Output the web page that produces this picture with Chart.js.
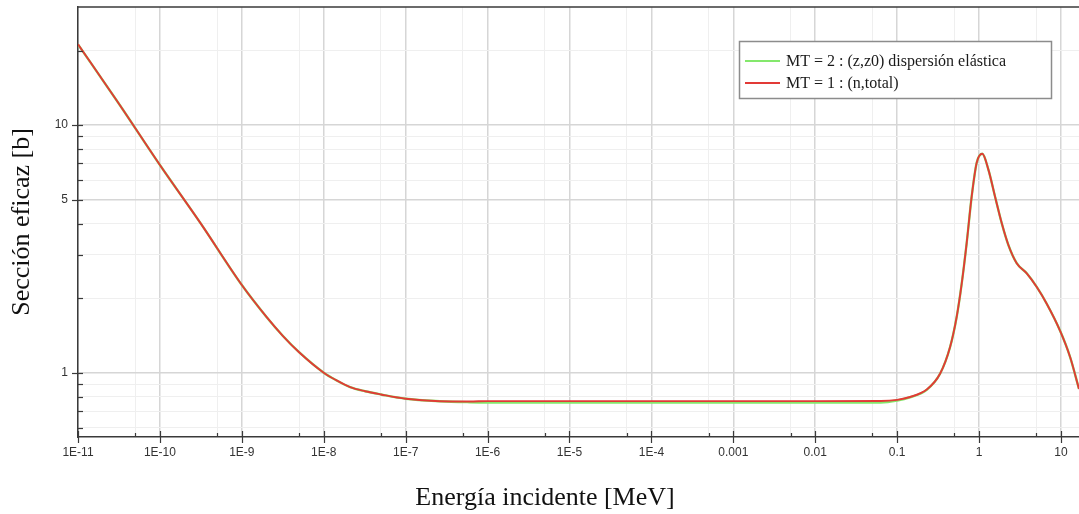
<!DOCTYPE html>
<html>
<head>
<meta charset="utf-8">
<script src="https://cdn.jsdelivr.net/npm/chart.js@4.4.1/dist/chart.umd.min.js"></script>
<style>
  html, body { margin: 0; padding: 0; background: #ffffff; }
  #wrap { width: 1079px; height: 514px; }
</style>
</head>
<body>
<div id="wrap"><canvas id="c" width="1079" height="514"></canvas></div>
<script>
// ---- data ----
const energyMeV = [1e-11, 3.16e-11, 1e-10, 3.16e-10, 1e-9, 2e-9, 3.16e-9, 5e-9, 1e-8, 1.4e-8, 2.1e-8, 3.2e-8, 5e-8, 1e-7, 2.6e-7, 6e-7,
  1e-6, 1e-5, 1e-4, 1e-3, 1e-2, 0.063, 0.1, 0.144, 0.23, 0.334, 0.443, 0.533, 0.614, 0.706, 0.813, 0.935,
  1.096, 1.30, 1.566, 1.89, 2.28, 2.88, 3.82, 5.06, 6.70, 9.73, 12.9, 16.6];
const sigmaElastic = [21.2, 12.2, 6.9, 4.0, 2.26, 1.68, 1.41, 1.21, 1.0, 0.935, 0.875, 0.842, 0.817, 0.785, 0.767, 0.760,
  0.758, 0.757, 0.757, 0.757, 0.757, 0.758, 0.772, 0.796, 0.853, 0.99, 1.27, 1.68, 2.29, 3.34, 5.15, 7.04,
  7.66, 6.61, 5.15, 4.02, 3.28, 2.77, 2.52, 2.22, 1.90, 1.48, 1.16, 0.86];
const sigmaTotal = [21.2, 12.2, 6.9, 4.0, 2.26, 1.68, 1.41, 1.21, 1.0, 0.935, 0.875, 0.842, 0.817, 0.785, 0.767, 0.765,
  0.768, 0.768, 0.768, 0.768, 0.768, 0.769, 0.777, 0.798, 0.855, 0.99, 1.27, 1.68, 2.29, 3.34, 5.15, 7.04,
  7.66, 6.61, 5.15, 4.02, 3.28, 2.77, 2.52, 2.22, 1.90, 1.48, 1.16, 0.86];
const seriesLabels = ['MT = 2 : (z,z0) dispersión elástica', 'MT = 1 : (n,total)'];
const seriesColors = ['#84e86c', '#e23a36'];

const xMajorTicks = [1e-11, 1e-10, 1e-9, 1e-8, 1e-7, 1e-6, 1e-5, 1e-4, 1e-3, 1e-2, 0.1, 1, 10];
const xTickLabels = ['1E-11', '1E-10', '1E-9', '1E-8', '1E-7', '1E-6', '1E-5', '1E-4', '0.001', '0.01', '0.1', '1', '10'];
const xMinorTicks = [5e-11, 5e-10, 5e-9, 5e-8, 5e-7, 5e-6, 5e-5, 5e-4, 5e-3, 0.05, 0.5, 5];
const yMajorTicks = [1, 5, 10];
const yTickLabels = ['1', '5', '10'];
const yMinorTicks = [0.6, 0.7, 0.8, 0.9, 2, 3, 4, 6, 7, 8, 9, 20];
const xTitle = 'Energía incidente [MeV]';
const yTitle = 'Sección eficaz [b]';

// ---- build tick tables ----
const xTicks = xMajorTicks.map((v, i) => ({ value: v, label: xTickLabels[i], major: true }))
  .concat(xMinorTicks.map(v => ({ value: v, label: '', major: false })))
  .sort((a, b) => a.value - b.value);
const yTicks = yMajorTicks.map((v, i) => ({ value: v, label: yTickLabels[i], major: true }))
  .concat(yMinorTicks.map(v => ({ value: v, label: '', major: false })))
  .sort((a, b) => a.value - b.value);

function mkPoints(vals) { return energyMeV.map((e, i) => ({ x: e, y: vals[i] })); }

const MAJOR_GRID = '#d6d6d6';
const MINOR_GRID = '#efefef';
const AXIS = '#3a3a3a';

const decor = {
  id: 'decor',
  afterDraw(chart) {
    const { ctx, chartArea: a, scales } = chart;
    const x = scales.x, y = scales.y;
    ctx.save();
    // top frame line
    ctx.strokeStyle = AXIS; ctx.lineWidth = 1.5;
    ctx.beginPath(); ctx.moveTo(a.left, a.top); ctx.lineTo(a.right, a.top); ctx.stroke();
    // tick marks
    ctx.lineWidth = 1.2; ctx.strokeStyle = AXIS;
    xTicks.forEach(t => {
      const px = Math.round(x.getPixelForValue(t.value)) + 0.5;
      if (px < a.left - 1 || px > a.right + 1) return;
      ctx.beginPath();
      if (t.major) { ctx.moveTo(px, a.bottom - 6); ctx.lineTo(px, a.bottom + 6); }
      else { ctx.moveTo(px, a.bottom - 4); ctx.lineTo(px, a.bottom); }
      ctx.stroke();
    });
    yTicks.forEach(t => {
      const py = Math.round(y.getPixelForValue(t.value)) + 0.5;
      if (py < a.top - 1 || py > a.bottom + 1) return;
      ctx.beginPath();
      if (t.major) { ctx.moveTo(a.left - 6, py); ctx.lineTo(a.left + 5, py); }
      else { ctx.moveTo(a.left, py); ctx.lineTo(a.left + 5, py); }
      ctx.stroke();
    });
    // axis titles
    ctx.fillStyle = '#111';
    ctx.font = '26px "Liberation Serif", "Times New Roman", serif';
    ctx.textAlign = 'center';
    ctx.textBaseline = 'alphabetic';
    ctx.fillText(xTitle, 545, 505);
    ctx.save();
    ctx.translate(22, (a.top + a.bottom) / 2);
    ctx.rotate(-Math.PI / 2);
    ctx.textBaseline = 'middle';
    ctx.fillText(yTitle, 0, 0);
    ctx.restore();
    // legend box
    const bx = 739.5, by = 41.5, bw = 312, bh = 57;
    ctx.fillStyle = '#ffffff';
    ctx.fillRect(bx, by, bw, bh);
    ctx.strokeStyle = '#8c8c8c'; ctx.lineWidth = 1.5;
    ctx.strokeRect(bx, by, bw, bh);
    ctx.font = '16px "Liberation Serif", "Times New Roman", serif';
    ctx.textAlign = 'left';
    ctx.textBaseline = 'middle';
    const rows = [61, 83];
    chart.data.datasets.forEach((ds, i) => {
      const ry = rows[i];
      ctx.strokeStyle = ds.borderColor; ctx.lineWidth = 2;
      ctx.beginPath(); ctx.moveTo(745, ry); ctx.lineTo(780, ry); ctx.stroke();
      ctx.fillStyle = '#1a1a1a';
      ctx.fillText(ds.label, 786, ry + 1);
    });
    ctx.restore();
  }
};

function zeroPad(s) { s.paddingTop = 0; s.paddingBottom = 0; s.paddingLeft = 0; s.paddingRight = 0; }

new Chart(document.getElementById('c'), {
  type: 'line',
  data: {
    datasets: [
      { label: seriesLabels[0], data: mkPoints(sigmaElastic), borderColor: seriesColors[0], borderWidth: 2.4,
        pointRadius: 0, cubicInterpolationMode: 'monotone', fill: false, order: 2 },
      { label: seriesLabels[1], data: mkPoints(sigmaTotal), borderColor: seriesColors[1], borderWidth: 1.9,
        pointRadius: 0, cubicInterpolationMode: 'monotone', fill: false, order: 1 }
    ]
  },
  options: {
    responsive: false,
    devicePixelRatio: 1,
    animation: false,
    layout: { padding: { top: 7, left: 0, right: 0, bottom: 0 } },
    plugins: { legend: { display: false }, tooltip: { enabled: false }, title: { display: false } },
    scales: {
      x: {
        type: 'logarithmic',
        bounds: 'data',
        min: 1e-11,
        max: 16.6,
        afterBuildTicks: s => { s.ticks = xTicks.map(t => ({ value: t.value })); },
        afterFit: s => { s.height = 77; zeroPad(s); },
        ticks: {
          autoSkip: false, maxRotation: 0, minRotation: 0, padding: 8,
          color: '#333', font: { family: '"Liberation Sans", Arial, sans-serif', size: 12 },
          callback: (v, i) => xTicks[i] ? xTicks[i].label : ''
        },
        grid: {
          drawTicks: false,
          color: c => (c.tick && xTicks[c.index] && xTicks[c.index].major) ? MAJOR_GRID : MINOR_GRID,
          lineWidth: c => (c.tick && xTicks[c.index] && xTicks[c.index].major) ? 1.5 : 1
        },
        border: { display: true, color: AXIS, width: 1.5 }
      },
      y: {
        type: 'logarithmic',
        bounds: 'data',
        min: 0.55,
        max: 30,
        afterBuildTicks: s => { s.ticks = yTicks.map(t => ({ value: t.value })); },
        afterFit: s => { s.width = 78; zeroPad(s); },
        ticks: {
          autoSkip: false, padding: 10,
          color: '#333', font: { family: '"Liberation Sans", Arial, sans-serif', size: 12 },
          callback: (v, i) => yTicks[i] ? yTicks[i].label : ''
        },
        grid: {
          drawTicks: false,
          color: c => (c.tick && yTicks[c.index] && yTicks[c.index].major) ? MAJOR_GRID : MINOR_GRID,
          lineWidth: c => (c.tick && yTicks[c.index] && yTicks[c.index].major) ? 1.5 : 1
        },
        border: { display: true, color: AXIS, width: 1.5 }
      }
    }
  },
  plugins: [decor]
});
</script>
</body>
</html>
